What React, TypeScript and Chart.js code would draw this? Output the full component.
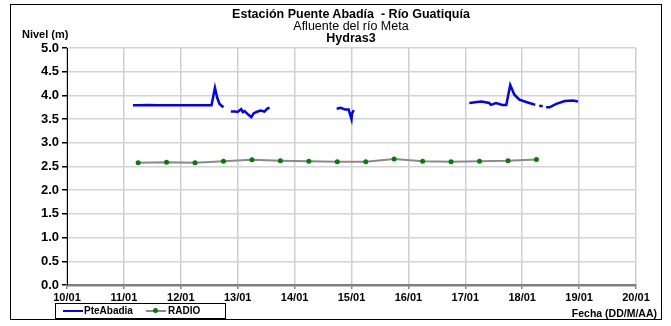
import React, { useEffect, useRef } from "react";
import { Chart, registerables } from "chart.js";

Chart.register(...registerables);

const FONT = '"Liberation Sans", Arial, sans-serif';

const xTickLabels = ["10/01", "11/01", "12/01", "13/01", "14/01", "15/01", "16/01", "17/01", "18/01", "19/01", "20/01"];
const yTickLabels = ["0.0", "0.5", "1.0", "1.5", "2.0", "2.5", "3.0", "3.5", "4.0", "4.5", "5.0"];

// PteAbadia (day of January, level in m); null = gap in record
const pteDays = [
  11.16, 11.3, 11.4, 11.6, 12.0, 12.3, 12.54, 12.6, 12.64, 12.68, 12.75,
  12.76,
  12.88, 12.95, 13.0, 13.06, 13.09, 13.12, 13.19, 13.24, 13.28, 13.33, 13.4, 13.47, 13.52, 13.56,
  13.6,
  14.74, 14.81, 14.89, 14.95, 14.98, 15.0, 15.01, 15.04,
  15.1,
  17.07, 17.28, 17.42, 17.45, 17.54, 17.65, 17.72, 17.79, 17.86, 17.95, 18.07, 18.18, 18.23,
  18.26, 18.3, 18.36, 18.38, 18.42, 18.48, 18.6, 18.75, 18.89, 18.98,
];
const pteLevels = [
  3.79, 3.79, 3.8, 3.79, 3.79, 3.79, 3.79, 4.16, 3.95, 3.82, 3.75,
  null,
  3.66, 3.66, 3.65, 3.71, 3.65, 3.67, 3.59, 3.54, 3.62, 3.65, 3.68, 3.66, 3.72, 3.74,
  null,
  3.72, 3.74, 3.7, 3.7, 3.58, 3.5, 3.62, 3.69,
  null,
  3.84, 3.87, 3.84, 3.8, 3.84, 3.8, 3.8, 4.22, 4.02, 3.91, 3.86, 3.82, 3.8,
  null, 3.78, 3.77, null, 3.75, 3.75, 3.82, 3.88, 3.89, 3.87,
];

// RADIO readings
const radioDays = [11.25, 11.75, 12.25, 12.75, 13.25, 13.75, 14.25, 14.75, 15.25, 15.75, 16.25, 16.75, 17.25, 17.75, 18.25];
const radioLevels = [2.58, 2.59, 2.58, 2.61, 2.64, 2.62, 2.61, 2.6, 2.6, 2.66, 2.61, 2.6, 2.61, 2.62, 2.65];

export default function App() {
  const canvasRef = useRef<HTMLCanvasElement | null>(null);

  useEffect(() => {
    const canvas = canvasRef.current;
    if (!canvas) return;
    const chart = new Chart(canvas, {
      type: "line",
      data: {
        datasets: [
          {
            label: "PteAbadia",
            data: pteDays.map((d, i) => ({ x: d, y: pteLevels[i] })),
            borderColor: "#0000ff",
            backgroundColor: "#0000ff",
            borderWidth: 2.5,
            pointRadius: 0,
            tension: 0,
            spanGaps: false,
          },
          {
            label: "RADIO",
            data: radioDays.map((d, i) => ({ x: d, y: radioLevels[i] })),
            borderColor: "#8a8a8a",
            backgroundColor: "#008000",
            borderWidth: 2,
            pointRadius: 2.5,
            pointBackgroundColor: "#008000",
            pointBorderColor: "#008000",
            pointBorderWidth: 0,
            tension: 0,
          },
        ],
      },
      options: {
        responsive: false,
        animation: false,
        layout: { padding: { left: 0, right: 35, top: 48, bottom: 0 } },
        plugins: {
          legend: { display: false },
          title: { display: false },
          tooltip: { enabled: false },
        },
        scales: {
          x: {
            type: "linear",
            min: 10,
            max: 20,
            ticks: {
              stepSize: 1,
              autoSkip: false,
              maxRotation: 0,
              padding: 2,
              color: "#000",
              font: { family: FONT, size: 11, weight: "bold" },
              callback: (v: any) => xTickLabels[Math.round(Number(v)) - 10],
            },
            grid: { color: "#cfcfcf", lineWidth: 1.5, tickLength: 4, tickColor: "#808080" },
            border: { color: "#808080", width: 2.5 },
            afterFit: (s: any) => {
              s.height = 41;
            },
          },
          y: {
            min: 0,
            max: 5,
            ticks: {
              stepSize: 0.5,
              padding: 3,
              color: "#000",
              font: { family: FONT, size: 13, weight: "bold" },
              callback: (v: any) => yTickLabels[Math.round(Number(v) * 2)],
            },
            grid: { color: "#d4d4d4", lineWidth: 1.5, tickLength: 5, tickColor: "#000" },
            border: { color: "#000", width: 1 },
            afterFit: (s: any) => {
              s.width = 67;
            },
          },
        },
      },
    });
    return () => chart.destroy();
  }, []);

  const txt: React.CSSProperties = {
    position: "absolute",
    fontFamily: FONT,
    color: "#000",
    whiteSpace: "nowrap",
    lineHeight: "12px",
  };

  return (
    <div style={{ position: "absolute", left: 0, top: 0, width: 671, height: 326, background: "#fff" }}>
      <div
        style={{
          position: "absolute",
          left: 10,
          top: 4,
          width: 652,
          height: 316,
          border: "1px solid #000",
          boxSizing: "border-box",
        }}
      />
      <canvas ref={canvasRef} width={671} height={326} style={{ position: "absolute", left: 0, top: 0 }} />
      <div style={{ ...txt, left: 151, width: 400, top: 8, textAlign: "center", fontSize: 12.5, fontWeight: "bold" }}>
        Estación Puente Abadía&nbsp; - Río Guatiquía
      </div>
      <div style={{ ...txt, left: 151, width: 400, top: 20, textAlign: "center", fontSize: 12.5 }}>
        Afluente del río Meta
      </div>
      <div style={{ ...txt, left: 151, width: 400, top: 32, textAlign: "center", fontSize: 12.5, fontWeight: "bold" }}>
        Hydras3
      </div>
      <div style={{ ...txt, left: 22, top: 28, fontSize: 11, fontWeight: "bold" }}>Nivel (m)</div>
      <div
        style={{
          position: "absolute",
          left: 55,
          top: 303,
          width: 171,
          height: 16,
          border: "1px solid #000",
          boxSizing: "border-box",
          background: "#fff",
        }}
      >
        <div style={{ position: "absolute", left: 7, top: 6, width: 20, height: 2, background: "#0000ff" }} />
        <div style={{ ...txt, left: 28, top: 1, fontSize: 10, fontWeight: "bold" }}>PteAbadia</div>
        <div style={{ position: "absolute", left: 90, top: 6, width: 20, height: 2, background: "#8a8a8a" }} />
        <div
          style={{
            position: "absolute",
            left: 97,
            top: 4,
            width: 5,
            height: 5,
            borderRadius: 3,
            background: "#008000",
          }}
        />
        <div style={{ ...txt, left: 112, top: 1, fontSize: 10, fontWeight: "bold" }}>RADIO</div>
      </div>
      <div style={{ ...txt, right: 671 - 657, top: 307, fontSize: 10.5, fontWeight: "bold" }}>Fecha (DD/M/AA)</div>
    </div>
  );
}
